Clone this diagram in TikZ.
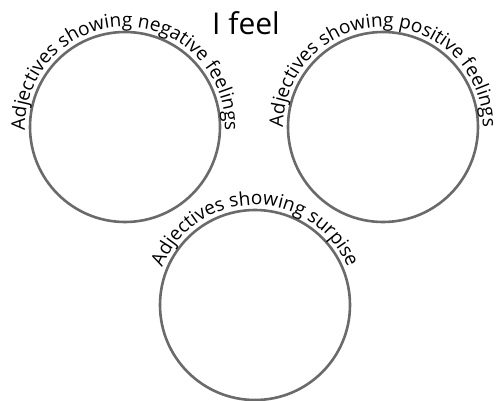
\documentclass[tikz,border=0pt]{standalone}
\usepackage{fontspec}
\setmainfont{Open Sans}
\definecolor{ringgray}{HTML}{6A6A6A}
\usepackage{tikz}
\usetikzlibrary{decorations.text}

\begin{document}
\begin{tikzpicture}[
  x=1pt,y=1pt,
  ring/.style={draw=ringgray,line width=2.6pt,circle,minimum size=190pt,inner sep=0pt},
  arclabel/.style={decorate,decoration={text along path,text align=center,
      text={|\fontsize{19}{22}\selectfont|#1}}},
  title/.style={font=\fontsize{30}{34}\selectfont,anchor=base,inner sep=0pt}
]
  \useasboundingbox (0,0) rectangle (498,400);

  \node[title] (feel) at (246,365) {I feel};

  \node[ring] (neg) at (125,273) {};
  \node[ring] (pos) at (383,273) {};
  \node[ring] (sur) at (255,95) {};

  % curved captions round the rings
  \path[arclabel={Adjectives showing negative feelings}]
    (neg.center) ++(210:100pt) arc[start angle=210,end angle=-30,radius=100pt];
  \path[arclabel={Adjectives showing positive feelings}]
    (pos.center) ++(210:100pt) arc[start angle=210,end angle=-30,radius=100pt];
  \path[arclabel={Adjectives showing surpise}]
    (sur.center) ++(200:100pt) arc[start angle=200,end angle=-20,radius=100pt];
\end{tikzpicture}
\end{document}
